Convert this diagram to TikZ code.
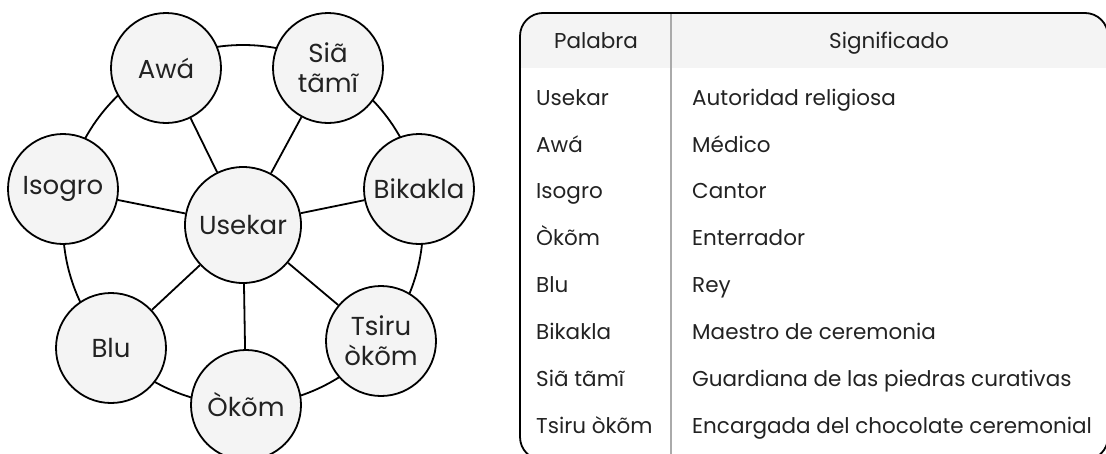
\documentclass[tikz,border=0pt]{standalone}
\usepackage{fontspec}
\setmainfont{Poppins}
\usetikzlibrary{backgrounds}
\definecolor{nodefill}{HTML}{F4F4F4}
\definecolor{hdrfill}{HTML}{F4F4F4}
\definecolor{divgray}{HTML}{AAAAAA}
\definecolor{txt}{HTML}{222222}
\begin{document}
\begin{tikzpicture}[x=1pt,y=-1pt,
  roleball/.style={circle,draw=black,line width=1.8pt,fill=nodefill,minimum size=110pt,inner sep=0pt,align=center,text=txt,font=\fontsize{26}{30}\selectfont},
  hubball/.style={roleball,minimum size=116pt},
  link/.style={line width=1.8pt,draw=black},
  cell/.style={anchor=west,inner sep=0pt,text=txt,text height=16pt,text depth=5pt,font=\fontsize{21.5}{26}\selectfont},
  headcell/.style={cell,anchor=center}]
\useasboundingbox (0,0) rectangle (1106,453);

% ---- diagram ----
\node[hubball] (use) at (243,225) {Usekar};
\node[roleball] (awa) at (166,68) {Awá};
\node[roleball] (sia) at (328,68) {Siã\\tãmĩ};
\node[roleball] (iso) at (63,189) {Isogro};
\node[roleball] (bik) at (419,189) {Bikakla};
\node[roleball] (blu) at (111,348) {Blu};
\node[roleball] (oko) at (246,405) {Òkõm};
\node[roleball] (tsi) at (381,341) {Tsiru\\òkõm};

\begin{scope}[on background layer]
  \draw[link] (use.center) circle[radius=180pt];
\end{scope}
\foreach \n in {awa,sia,iso,bik,blu,oko,tsi}
  \draw[link] (use) -- (\n);

% ---- table ----
\begin{scope}
  \clip[rounded corners=23pt] (520,13) rectangle (1108,460);
  \fill[hdrfill] (520,13) rectangle (1108,68);
\end{scope}
\draw[divgray,line width=1.8pt] (671,13) -- (671,460);
\draw[black,line width=1.8pt,rounded corners=23pt] (520,13) rectangle (1108,460);

\node[headcell] (h1) at (596,43) {Palabra};
\node[headcell] (h2) at (889,43) {Significado};

\node[cell] (w1) at (536,100) {Usekar};
\node[cell] (m1) at (692,100) {Autoridad religiosa};
\node[cell] (w2) at (536,147) {Awá};
\node[cell] (m2) at (692,147) {Médico};
\node[cell] (w3) at (536,193) {Isogro};
\node[cell] (m3) at (692,193) {Cantor};
\node[cell] (w4) at (536,240) {Òkõm};
\node[cell] (m4) at (692,240) {Enterrador};
\node[cell] (w5) at (536,287) {Blu};
\node[cell] (m5) at (692,287) {Rey};
\node[cell] (w6) at (536,334) {Bikakla};
\node[cell] (m6) at (692,334) {Maestro de ceremonia};
\node[cell] (w7) at (536,381) {Siã tãmĩ};
\node[cell] (m7) at (692,381) {Guardiana de las piedras curativas};
\node[cell] (w8) at (536,428) {Tsiru òkõm};
\node[cell] (m8) at (692,428) {Encargada del chocolate ceremonial};
\end{tikzpicture}
\end{document}
